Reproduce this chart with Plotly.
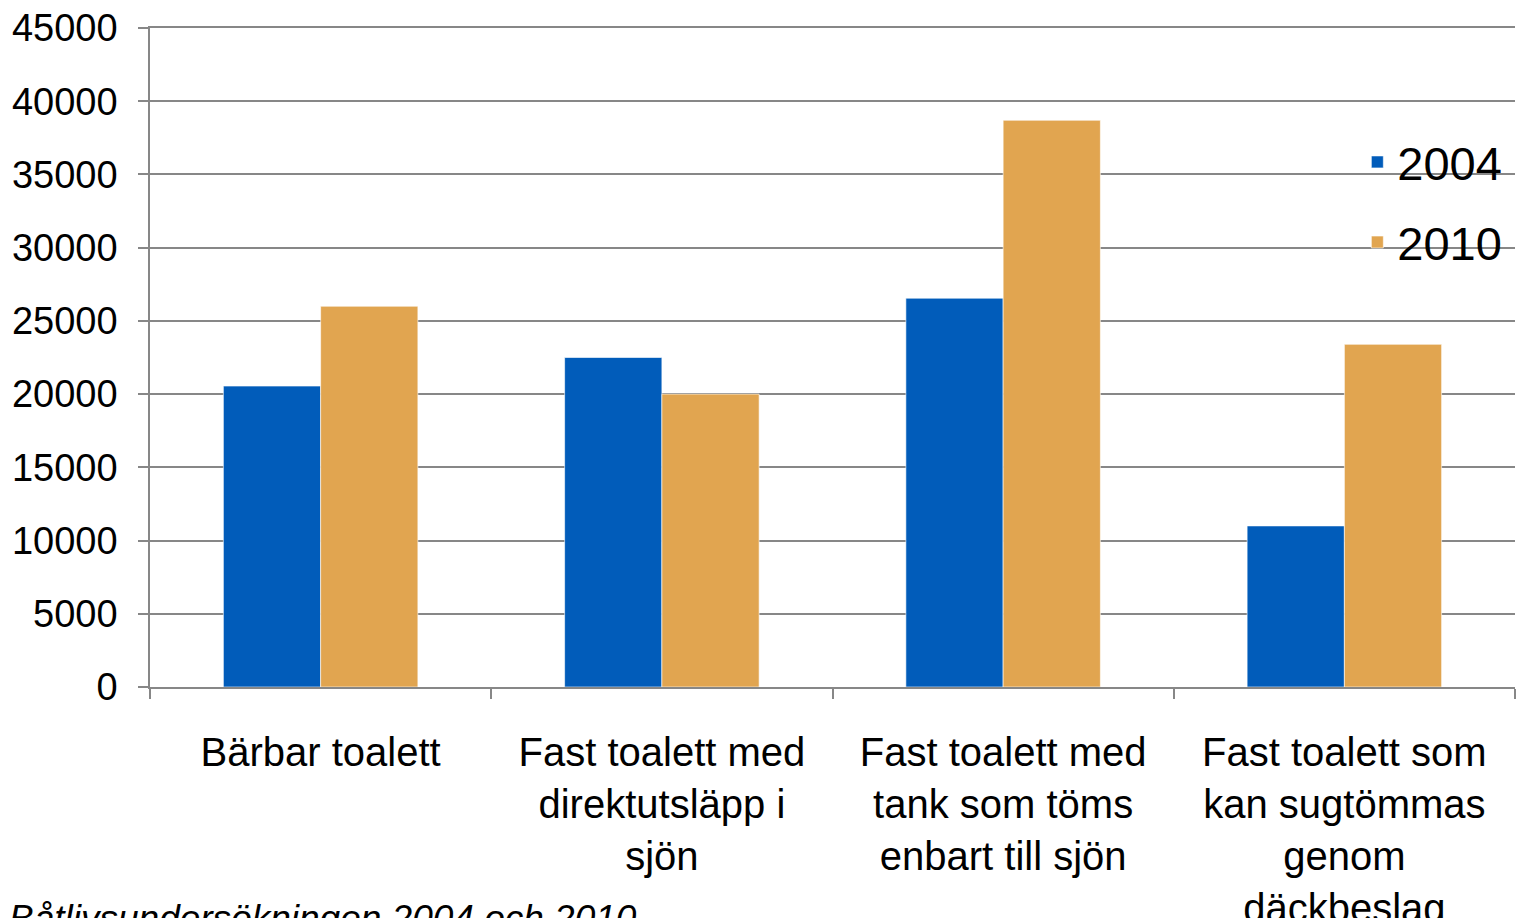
import plotly.graph_objects as go

categories = [
    "Bärbar toalett",
    "Fast toalett med<br>direktutsläpp i<br>sjön",
    "Fast toalett med<br>tank som töms<br>enbart till sjön",
    "Fast toalett som<br>kan sugtömmas<br>genom<br>däckbeslag",
]
series_names = ["2004", "2010"]
values_2004 = [20550, 22500, 26550, 11000]
values_2010 = [26000, 20000, 38700, 23400]
colors = ["#015CBA", "#E1A550"]
source_text = "Båtlivsundersökningen 2004 och 2010"

FONT = "Liberation Sans, Arial, sans-serif"
GRID = "#878787"

fig = go.Figure()
for name, vals, col in zip(series_names, [values_2004, values_2010], colors):
    fig.add_trace(go.Bar(
        x=categories, y=vals, name=name, legendgroup=name,
        marker=dict(color=col, line=dict(color="rgba(255,255,255,0.6)", width=1)),
    ))

fig.update_layout(
    width=1516, height=918,
    margin=dict(l=150, r=1, t=28, b=231, autoexpand=False),
    paper_bgcolor="white", plot_bgcolor="white",
    barmode="group", bargap=0.43, bargroupgap=0,
    font=dict(family=FONT, color="black"),
    showlegend=True,
    legend=dict(
        x=0.8845, y=0.853, xanchor="left", yanchor="top",
        font=dict(size=47, family=FONT, color="black"),
        bgcolor="rgba(0,0,0,0)", itemwidth=30, tracegroupgap=16,
    ),
    xaxis=dict(
        type="category", tickson="boundaries", automargin=False,
        ticks="outside", ticklen=10, tickcolor=GRID, tickwidth=1.5,
        showline=True, linecolor=GRID, linewidth=1.5, mirror=True,
        showgrid=False, tickfont=dict(size=40, family=FONT, color="black"),
        ticklabelstandoff=29,
    ),
    yaxis=dict(
        range=[0, 45000], dtick=5000, tickformat="d", automargin=False,
        ticks="outside", ticklen=10, tickcolor=GRID, tickwidth=1.5,
        showline=True, linecolor=GRID, linewidth=1.5,
        showgrid=True, gridcolor=GRID, gridwidth=1.5,
        zeroline=False, ticklabeloverflow="allow",
        tickfont=dict(size=38, family=FONT, color="black"),
        ticklabelstandoff=13,
    ),
    annotations=[dict(
        text="<i>" + source_text + "</i>", xref="paper", yref="paper",
        x=-0.105, y=-0.352, xanchor="left", yanchor="middle",
        showarrow=False, font=dict(size=37, family=FONT, color="black"),
    )],
)

fig.write_html(
    "out.html",
    config={"displayModeBar": False},
    post_script="document.body.style.margin='0';document.body.style.overflow='hidden';",
)
